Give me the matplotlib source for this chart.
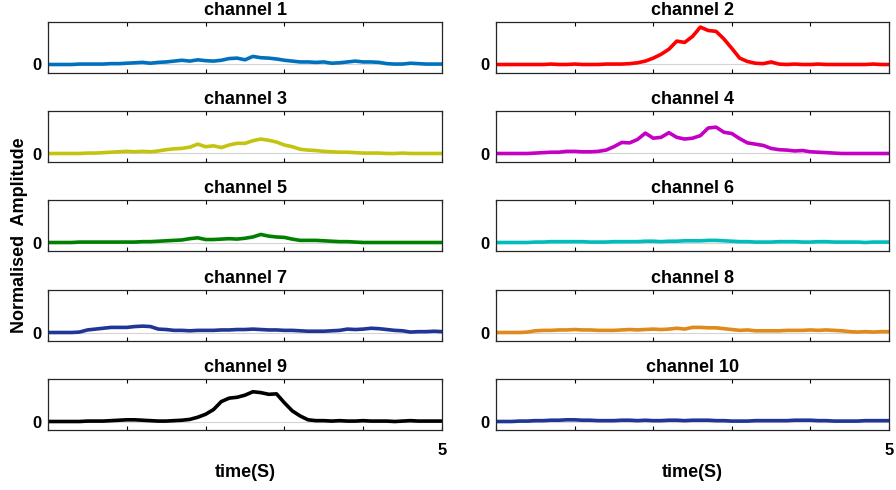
import numpy as np
import matplotlib
matplotlib.use("Agg")
import matplotlib.pyplot as plt

# sample times (s), one value every 0.1 s
time = np.linspace(0, 5, 51)

ch1 = [0.00, 0.00, 0.00, 0.00, 0.01, 0.01, 0.01, 0.01, 0.02, 0.02,
       0.03, 0.04, 0.05, 0.03, 0.05, 0.06, 0.08, 0.10, 0.08, 0.11,
       0.09, 0.08, 0.10, 0.14, 0.15, 0.11, 0.19, 0.16, 0.15, 0.13,
       0.10, 0.08, 0.06, 0.06, 0.05, 0.06, 0.03, 0.04, 0.06, 0.08,
       0.06, 0.06, 0.05, 0.02, 0.01, 0.01, 0.03, 0.02, 0.01, 0.01, 0.01]
ch2 = [0.00, 0.00, 0.00, 0.00, 0.00, 0.00, 0.00, 0.01, 0.00, 0.00,
       0.01, 0.00, 0.00, 0.00, 0.01, 0.01, 0.01, 0.02, 0.04, 0.08,
       0.15, 0.24, 0.36, 0.55, 0.52, 0.66, 0.88, 0.80, 0.78, 0.60,
       0.38, 0.15, 0.07, 0.03, 0.02, 0.06, 0.01, 0.00, 0.01, 0.00,
       0.00, 0.01, 0.00, 0.00, 0.00, 0.00, 0.00, 0.00, 0.01, 0.00, 0.00]
ch3 = [0.00, 0.00, 0.00, 0.00, 0.00, 0.01, 0.01, 0.02, 0.03, 0.04,
       0.05, 0.04, 0.05, 0.04, 0.06, 0.09, 0.11, 0.12, 0.15, 0.22,
       0.16, 0.18, 0.14, 0.20, 0.24, 0.24, 0.30, 0.34, 0.31, 0.27,
       0.20, 0.16, 0.10, 0.08, 0.07, 0.05, 0.04, 0.03, 0.03, 0.02,
       0.01, 0.01, 0.01, 0.00, 0.00, 0.01, 0.00, 0.00, 0.00, 0.00, 0.00]
ch4 = [0.00, 0.00, 0.00, 0.00, 0.00, 0.01, 0.02, 0.03, 0.03, 0.05,
       0.05, 0.04, 0.04, 0.05, 0.08, 0.16, 0.26, 0.25, 0.33, 0.48,
       0.36, 0.38, 0.49, 0.38, 0.34, 0.36, 0.42, 0.60, 0.62, 0.50,
       0.47, 0.35, 0.25, 0.22, 0.19, 0.12, 0.09, 0.08, 0.06, 0.07,
       0.04, 0.03, 0.02, 0.01, 0.00, 0.00, 0.00, 0.00, 0.00, 0.00, 0.00]
ch5 = [0.00, 0.00, 0.00, 0.00, 0.01, 0.01, 0.01, 0.01, 0.01, 0.01,
       0.01, 0.01, 0.02, 0.02, 0.03, 0.04, 0.05, 0.06, 0.09, 0.11,
       0.07, 0.07, 0.08, 0.09, 0.08, 0.10, 0.13, 0.19, 0.15, 0.13,
       0.12, 0.08, 0.05, 0.05, 0.05, 0.04, 0.03, 0.02, 0.02, 0.01,
       0.00, 0.00, 0.00, 0.00, 0.00, 0.00, 0.00, 0.00, 0.00, 0.00, 0.00]
ch6 = [0.00, 0.00, 0.00, 0.00, 0.00, 0.01, 0.01, 0.02, 0.02, 0.02,
       0.02, 0.02, 0.01, 0.01, 0.01, 0.02, 0.02, 0.02, 0.02, 0.03,
       0.03, 0.02, 0.03, 0.03, 0.04, 0.04, 0.04, 0.05, 0.05, 0.04,
       0.03, 0.02, 0.02, 0.01, 0.01, 0.01, 0.02, 0.02, 0.02, 0.01,
       0.01, 0.02, 0.02, 0.01, 0.01, 0.01, 0.01, 0.00, 0.01, 0.01, 0.01]
ch7 = [0.00, 0.00, 0.00, 0.00, 0.01, 0.06, 0.08, 0.10, 0.12, 0.12,
       0.12, 0.14, 0.15, 0.14, 0.08, 0.07, 0.05, 0.05, 0.04, 0.05,
       0.05, 0.05, 0.06, 0.06, 0.07, 0.07, 0.08, 0.07, 0.06, 0.06,
       0.05, 0.05, 0.04, 0.03, 0.03, 0.03, 0.04, 0.05, 0.08, 0.07,
       0.08, 0.10, 0.09, 0.07, 0.05, 0.04, 0.01, 0.02, 0.02, 0.03, 0.02]
ch8 = [0.00, 0.00, 0.00, 0.00, 0.01, 0.04, 0.05, 0.05, 0.06, 0.06,
       0.07, 0.06, 0.06, 0.05, 0.05, 0.05, 0.06, 0.07, 0.06, 0.07,
       0.08, 0.07, 0.08, 0.10, 0.08, 0.12, 0.12, 0.11, 0.11, 0.09,
       0.07, 0.05, 0.06, 0.04, 0.04, 0.04, 0.04, 0.05, 0.05, 0.05,
       0.06, 0.05, 0.06, 0.05, 0.04, 0.02, 0.01, 0.02, 0.01, 0.02, 0.02]
ch9 = [0.00, 0.00, 0.00, 0.00, 0.00, 0.01, 0.01, 0.01, 0.02, 0.03,
       0.04, 0.04, 0.03, 0.02, 0.01, 0.01, 0.02, 0.03, 0.05, 0.10,
       0.17, 0.28, 0.47, 0.55, 0.57, 0.62, 0.70, 0.68, 0.64, 0.65,
       0.44, 0.25, 0.13, 0.04, 0.02, 0.02, 0.01, 0.02, 0.01, 0.01,
       0.02, 0.01, 0.01, 0.01, 0.00, 0.01, 0.02, 0.01, 0.01, 0.01, 0.01]
ch10 = [0.00, 0.00, 0.00, 0.01, 0.01, 0.02, 0.02, 0.03, 0.03, 0.04,
        0.04, 0.03, 0.03, 0.02, 0.02, 0.02, 0.03, 0.03, 0.02, 0.03,
        0.02, 0.02, 0.03, 0.03, 0.02, 0.03, 0.03, 0.03, 0.02, 0.02,
        0.01, 0.01, 0.01, 0.02, 0.02, 0.02, 0.02, 0.02, 0.03, 0.03,
        0.03, 0.02, 0.02, 0.01, 0.01, 0.01, 0.01, 0.02, 0.02, 0.02, 0.02]

channels = [ch1, ch2, ch3, ch4, ch5, ch6, ch7, ch8, ch9, ch10]
titles = ["channel %d" % (i + 1) for i in range(10)]
colors = ["#0072BD", "#FF0000", "#C4C410", "#C400C4", "#008000",
          "#00BDBD", "#1F3696", "#E0891C", "#000000", "#1F3696"]

plt.rcParams['font.family'] = ['Liberation Sans', 'DejaVu Sans']
plt.rcParams['font.weight'] = 'bold'

fig = plt.figure(figsize=(8.96, 4.9), dpi=100)
W, H = 896.0, 490.0

# axes boxes measured in pixels (left edge, width) and row tops
col_x = [(48, 394), (496, 393)]
row_top = [22, 111, 200, 290, 379]
ax_h = 51

for i, vals in enumerate(channels):
    r, c = i // 2, i % 2
    x0, w = col_x[c]
    ax = fig.add_axes([x0 / W, 1 - (row_top[r] + ax_h) / H, w / W, ax_h / H])
    ax.axhline(0, color="#d4d4d4", lw=0.8, zorder=1)
    ax.plot(time, vals, color=colors[i], lw=2.6, zorder=2)
    ax.set_xlim(0, 5)
    ax.set_ylim(-0.2, 1.0)
    ax.set_title(titles[i], fontsize=13, fontweight='bold', pad=5)
    ax.set_yticks([0])
    ax.set_yticklabels(["0"], fontsize=12, fontweight='bold')
    ax.set_xticks([0, 1, 2, 3, 4, 5])
    if r == 4:
        ax.set_xticklabels(["", "", "", "", "", "5"], fontsize=12, fontweight='bold')
        ax.set_xlabel("time(S)", fontsize=13, fontweight='bold', labelpad=5)
    else:
        ax.set_xticklabels([])
    ax.tick_params(axis='x', direction='in', length=3, width=0.8, top=True, pad=9)
    ax.tick_params(axis='y', direction='in', length=0, pad=5)
    for s in ax.spines.values():
        s.set_linewidth(0.9)
        s.set_color("#262626")

fig.text(0.022, 0.52, "Normalised  Amplitude", rotation=90, fontsize=13,
         fontweight='bold', ha='center', va='center')

fig.savefig("out.png", dpi=100)
